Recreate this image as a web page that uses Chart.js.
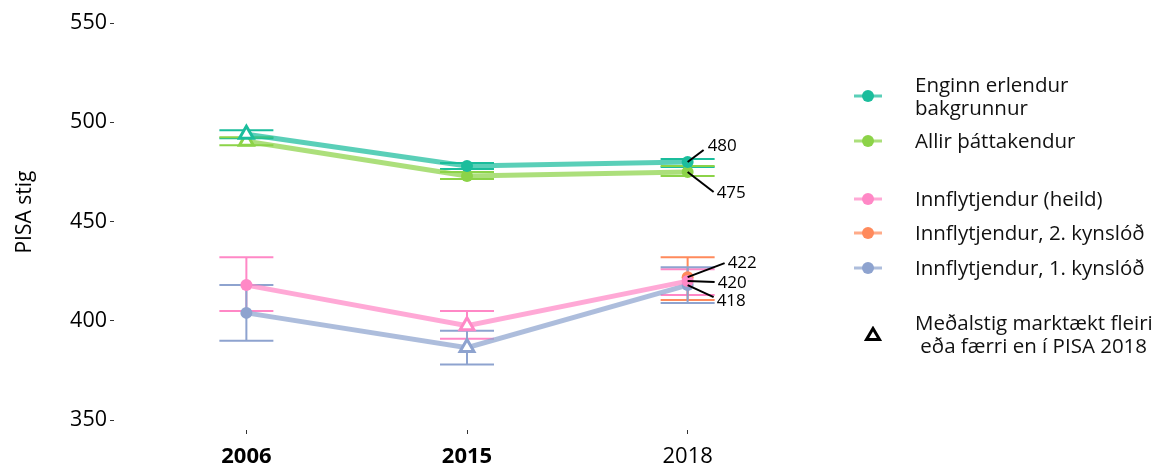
<!DOCTYPE html>
<html lang="is">
<head>
<meta charset="utf-8">
<title>PISA stig</title>
<script src="https://cdn.jsdelivr.net/npm/chart.js@4/dist/chart.umd.min.js"></script>
<style>
    body { margin: 0; background: #fff; font-family: "Open Sans", sans-serif; }
    #umgjord { position: relative; width: 1165px; height: 471px; }
    #skyringar { position: absolute; left: 0; top: 0; }
    .skyring { position: absolute; left: 853px; display: flex; align-items: center; font-size: 20.5px; line-height: 23px; color: #111; white-space: pre; }
    .skyring svg { margin-right: 32px; flex: none; }
</style>
</head>
<body>
<div id="umgjord">
    <canvas id="grafik"></canvas>
    <div id="skyringar"></div>
</div>
<script>
const ar = ["2006", "2015", "2018"];
const feitletrad = [true, true, false];

const enginnErlendur = [494, 478, 480];
const enginnErlendurLag = [492, 476.5, 477.5];
const enginnErlendurHa = [496, 479.5, 481.5];
const enginnErlendurMarktaekt = [true, false, false];

const allir = [490.5, 473, 475];
const allirLag = [488.5, 471.5, 473];
const allirHa = [492.5, 475, 478];
const allirMarktaekt = [true, false, false];

const innflytjendur = [418, 397.5, 420];
const innflytjendurLag = [405, 391, 413];
const innflytjendurHa = [432, 405, 426];
const innflytjendurMarktaekt = [false, true, false];

const annarKynslod = [null, null, 422];
const annarKynslodLag = [null, null, 410.5];
const annarKynslodHa = [null, null, 432];
const annarKynslodMarktaekt = [false, false, false];

const fyrstaKynslod = [404, 386.5, 418];
const fyrstaKynslodLag = [390, 378, 409];
const fyrstaKynslodHa = [418, 395, 427];
const fyrstaKynslodMarktaekt = [false, true, false];

const yAsMerki = [350, 400, 450, 500, 550];

const litir = ["#1bbd9c", "#8cd348", "#ff88c6", "#ff8a5c", "#8ea3cf"];

function gegnsaer(hex, a) {
    const n = parseInt(hex.slice(1), 16);
    return `rgba(${n >> 16}, ${(n >> 8) & 255}, ${n & 255}, ${a})`;
}

function rod(heiti, gildi, lag, ha, marktaekt, litur) {
    return {
        label: heiti,
        data: gildi.map((y, i) => ({ x: i, y: y })),
        lag: lag,
        ha: ha,
        borderColor: gegnsaer(litur, 0.72),
        borderWidth: 5,
        pointStyle: marktaekt.map((m) => m ? "triangle" : "circle"),
        pointRadius: marktaekt.map((m) => m ? 8 : 6),
        pointHoverRadius: marktaekt.map((m) => m ? 8 : 6),
        pointBackgroundColor: marktaekt.map((m) => m ? "#fff" : litur),
        pointBorderColor: litur,
        pointBorderWidth: marktaekt.map((m) => m ? 3 : 0),
        litur: litur,
        spanGaps: false
    };
}

const gagnasett = [
    rod("Enginn erlendur\nbakgrunnur", enginnErlendur, enginnErlendurLag, enginnErlendurHa, enginnErlendurMarktaekt, litir[0]),
    rod("Allir þáttakendur", allir, allirLag, allirHa, allirMarktaekt, litir[1]),
    rod("Innflytjendur (heild)", innflytjendur, innflytjendurLag, innflytjendurHa, innflytjendurMarktaekt, litir[2]),
    rod("Innflytjendur, 2. kynslóð", annarKynslod, annarKynslodLag, annarKynslodHa, annarKynslodMarktaekt, litir[3]),
    rod("Innflytjendur, 1. kynslóð", fyrstaKynslod, fyrstaKynslodLag, fyrstaKynslodHa, fyrstaKynslodMarktaekt, litir[4])
];

// villustrik teiknuð undir línum og punktum
const villustrik = {
    id: "villustrik",
    beforeDatasetsDraw(chart) {
        const { ctx, scales: { x, y } } = chart;
        ctx.save();
        ctx.lineWidth = 2;
        chart.data.datasets.forEach((ds) => {
            ctx.strokeStyle = ds.litur;
            ds.lag.forEach((lag, i) => {
                if (lag == null) return;
                const px = x.getPixelForValue(i);
                const y1 = y.getPixelForValue(lag);
                const y2 = y.getPixelForValue(ds.ha[i]);
                ctx.beginPath();
                ctx.moveTo(px, y1); ctx.lineTo(px, y2);
                ctx.moveTo(px - 27, y1); ctx.lineTo(px + 27, y1);
                ctx.moveTo(px - 27, y2); ctx.lineTo(px + 27, y2);
                ctx.stroke();
            });
        });
        ctx.restore();
    }
};

// gildi 2018 skrifuð við endann með vísilínu
const merkingar = [
    { rod: 0, dx: 16, dy: -12, tx: 20, ty: -16 },
    { rod: 1, dx: 26, dy: 20, tx: 29, ty: 21 },
    { rod: 3, dx: 37, dy: -14, tx: 40, ty: -14 },
    { rod: 2, dx: 27, dy: 1, tx: 30, ty: 2 },
    { rod: 4, dx: 26, dy: 12, tx: 29, ty: 16 }
];

const gildismerki = {
    id: "gildismerki",
    afterDatasetsDraw(chart) {
        const { ctx, scales: { x, y } } = chart;
        ctx.save();
        ctx.strokeStyle = "#000";
        ctx.fillStyle = "#000";
        ctx.lineWidth = 2;
        ctx.font = "17px 'Open Sans'";
        ctx.textBaseline = "middle";
        merkingar.forEach((m) => {
            const punktur = chart.data.datasets[m.rod].data[2];
            const px = x.getPixelForValue(punktur.x);
            const py = y.getPixelForValue(punktur.y);
            ctx.beginPath();
            ctx.moveTo(px, py);
            ctx.lineTo(px + m.dx, py + m.dy);
            ctx.stroke();
            ctx.fillText(String(punktur.y), px + m.tx, py + m.ty);
        });
        ctx.restore();
    }
};

new Chart(document.getElementById("grafik"), {
    type: "line",
    data: { datasets: gagnasett },
    plugins: [villustrik, gildismerki],
    options: {
        responsive: true,
        maintainAspectRatio: false,
        animation: false,
        layout: { padding: { top: 0, right: 345, left: 0, bottom: 0 } },
        plugins: { legend: { display: false }, tooltip: { enabled: false } },
        scales: {
            x: {
                type: "linear",
                min: -0.6,
                max: 2.6,
                afterBuildTicks: (scale) => { scale.ticks = ar.map((_, i) => ({ value: i })); },
                afterFit: (scale) => { scale.height = 41; },
                border: { display: false },
                grid: { drawOnChartArea: false, drawTicks: true, tickLength: 4, color: "#333" },
                ticks: {
                    callback: (v) => ar[v],
                    color: "#000",
                    padding: 10,
                    maxRotation: 0,
                    font: (c) => ({ family: "'Open Sans'", size: 22, weight: feitletrad[c.index] ? "bold" : "normal" })
                }
            },
            y: {
                min: 345,
                max: 553.6,
                afterBuildTicks: (scale) => { scale.ticks = yAsMerki.map((v) => ({ value: v })); },
                afterFit: (scale) => { scale.width = 114; },
                border: { display: false },
                grid: { drawOnChartArea: false, drawTicks: true, tickLength: 4, color: "#333" },
                ticks: { color: "#000", padding: 3, font: { family: "'Open Sans'", size: 21.5 } },
                title: { display: true, text: "    PISA stig", color: "#000", font: { family: "'Open Sans'", size: 21 }, padding: { top: 12, bottom: 0 } }
            }
        }
    }
});

// skýringar til hægri
const skyringar = document.getElementById("skyringar");
const skyringaTopp = [73, 129, 187, 221, 256];
gagnasett.forEach((ds, i) => {
    const lina = document.createElement("div");
    lina.className = "skyring";
    lina.style.top = skyringaTopp[i] + "px";
    lina.innerHTML = `<svg width="30" height="14"><line x1="1" y1="7" x2="29" y2="7" stroke="${gegnsaer(ds.litur, 0.72)}" stroke-width="3"/><circle cx="15" cy="7" r="6" fill="${ds.litur}"/></svg>`;
    const texti = document.createElement("span");
    texti.textContent = ds.label;
    lina.append(texti);
    skyringar.append(lina);
});
const thrihyrningur = document.createElement("div");
thrihyrningur.className = "skyring";
thrihyrningur.style.top = "311px";
thrihyrningur.innerHTML = `<svg width="30" height="16"><polygon points="20,2.5 26.5,13.5 13.5,13.5" fill="none" stroke="#000" stroke-width="3" stroke-linejoin="miter"/></svg>`;
const thrihyrningsTexti = document.createElement("span");
thrihyrningsTexti.textContent = "Meðalstig marktækt fleiri\n eða færri en í PISA 2018";
thrihyrningur.append(thrihyrningsTexti);
skyringar.append(thrihyrningur);
</script>
</body>
</html>
